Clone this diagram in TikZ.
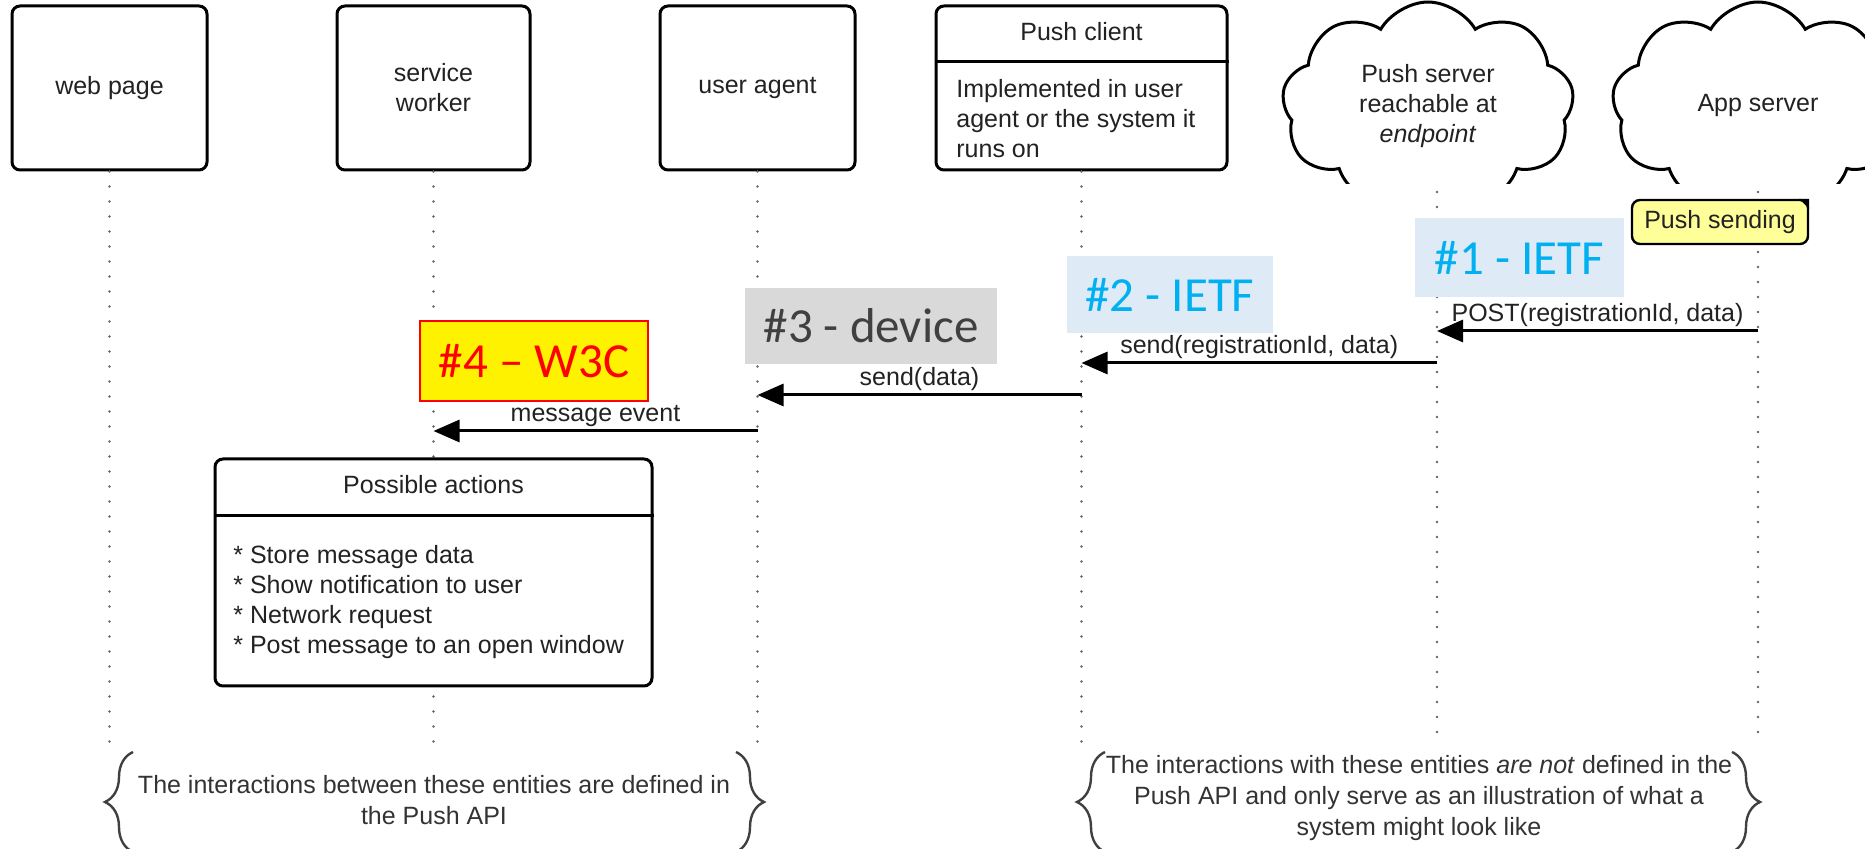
\documentclass[tikz,border=0pt]{standalone}
\usepackage{fontspec}
\setmainfont{Liberation Sans}
\newfontfamily\calibri{Carlito}
\usetikzlibrary{shapes.symbols,arrows.meta,decorations.pathreplacing}

\definecolor{ietfblue}{HTML}{00B0F0}
\definecolor{ietffill}{HTML}{DEEAF6}
\definecolor{devfill}{HTML}{D9D9D9}
\definecolor{devtext}{HTML}{404040}
\definecolor{notefill}{HTML}{FFFF99}
\definecolor{lifegray}{HTML}{666666}
\definecolor{inktext}{HTML}{222222}
\definecolor{remarktext}{HTML}{333333}

\tikzset{
  base/.style={font=\fontsize{12.5}{15}\selectfont, text=inktext},
  actor/.style={base, draw, line width=1.5pt, rounded corners=4pt, fill=white,
    minimum height=82pt, align=center, inner sep=0pt},
  server/.style={base, cloud, cloud puffs=9, cloud puff arc=120, cloud ignores aspect,
    draw, line width=1.5pt, fill=white, align=center, inner sep=0pt,
    minimum width=146pt, minimum height=104pt},
  lifeline/.style={draw=lifegray, line width=1.3pt, dash pattern=on 0pt off 7.5pt, line cap=round},
  msg/.style={line width=1.5pt, -{Triangle[length=13pt,width=11pt]}},
  msglabel/.style={base, above=1.5pt, midway, inner sep=0pt},
  tag/.style={font=\calibri\fontsize{24.5}{28}\selectfont, inner sep=0pt},
  panel/.style={draw, line width=1.5pt, rounded corners=4pt, fill=white},
  curly/.style={decorate, decoration={brace, amplitude=14pt}, draw=black!75, line width=1.2pt},
  remark/.style={base, text=remarktext, align=center, font=\fontsize{12.5}{15.5}\selectfont},
}

\begin{document}
\begin{tikzpicture}[x=0.5pt,y=-0.5pt]
\useasboundingbox (0,0) rectangle (1865,849);

% participants
\node[actor, minimum width=97.5pt] (wp) at (109.5,88) {web page};
\node[actor, minimum width=96.5pt] (sw) at (433.5,88) {service\\worker};
\node[actor, minimum width=97.5pt] (ua) at (757.5,88) {user agent};
\node[actor, minimum width=145.5pt] (pc) at (1081.5,88) {};
\coordinate (pcdiv) at (0,62);
\draw[line width=1.5pt] (pc.west |- pcdiv) -- (pc.east |- pcdiv);
\node[base] (pctitle) at (1081.5,32) {Push client};
\node[base, align=left, anchor=north west, inner sep=0pt] (pcbody) at (956,79)
  {Implemented in user\\agent or the system it\\runs on};

% servers, drawn as clouds cut flat at the bottom
\begin{scope}
  \clip (1200,-10) rectangle (1900,184);
  \node[server] (ps) at (1428,106) {Push server\\reachable at\\\textit{endpoint}};
  \node[server] (as) at (1758,106) {App server};
\end{scope}
\coordinate (psl) at (1437,106);

% lifelines
\coordinate (bottom) at (0,745);
\coordinate (cut) at (0,192);
\foreach \p in {wp,sw,ua,pc}
  \draw[lifeline] (\p.south) -- (\p.south |- bottom);
\draw[lifeline] (psl |- cut) -- (psl |- bottom);
\draw[lifeline] (as.center |- cut) -- (as.center |- bottom);

% messages
\coordinate (m1) at (0,331);
\coordinate (m2) at (0,363);
\coordinate (m3) at (0,395);
\coordinate (m4) at (0,431);
\draw[msg] (as.center |- m1) -- node[msglabel]{POST(registrationId, data)} (psl |- m1);
\draw[msg] (psl |- m2) -- node[msglabel]{send(registrationId, data)} (pc.center |- m2);
\draw[msg] (pc.center |- m3) -- node[msglabel]{send(data)} (ua.center |- m3);
\draw[msg] (ua.center |- m4) -- node[msglabel]{message event} (sw.center |- m4);

% standard body tags
\node[tag, fill=ietffill, text=ietfblue, minimum width=104.5pt, minimum height=39.5pt] (t1) at (1519.5,257.5) {\#1 - IETF};
\node[tag, fill=ietffill, text=ietfblue, minimum width=103pt, minimum height=38.5pt] (t2) at (1170,294.5) {\#2 - IETF};
\node[tag, fill=devfill, text=devtext, minimum width=126pt, minimum height=38pt] (t3) at (871,326) {\#3 - device};
\node[tag, fill=yellow, draw=red, line width=0.8pt, text=red, minimum width=114pt, minimum height=40pt] (t4) at (534,361) {\#4 – W3C};

% note on the app server
\node[base, draw, line width=1.2pt, rounded corners=4pt, fill=notefill,
  minimum width=88pt, minimum height=22pt, inner sep=0pt] (note) at (1720,222) {Push sending};
\fill ([xshift=-5pt]note.north east) -- (note.north east) -- ([yshift=-5pt]note.north east) -- cycle;

% possible actions of the service worker
\node[panel, minimum width=218.5pt, minimum height=113.5pt] (pa) at (433.5,572.5) {};
\coordinate (padiv) at (0,516);
\draw[line width=1.5pt] (pa.west |- padiv) -- (pa.east |- padiv);
\node[base] (patitle) at (433.5,485) {Possible actions};
\node[base, align=left, anchor=north west, inner sep=0pt] (palist) at (233,545)
  {* Store message data\\* Show notification to user\\* Network request\\* Post message to an open window};

% scope remarks
\draw[curly] (133,852) -- (133,752);
\draw[curly] (736,752) -- (736,852);
\node[remark] (r1) at (434,800) {The interactions between these entities are defined in\\the Push API};
\draw[curly] (1105,852) -- (1105,752);
\draw[curly] (1732,752) -- (1732,852);
\node[remark] (r2) at (1419,798) {The interactions with these entities \textit{are not} defined in the\\Push API and only serve as an illustration of what a\\system might look like};
\end{tikzpicture}
\end{document}
